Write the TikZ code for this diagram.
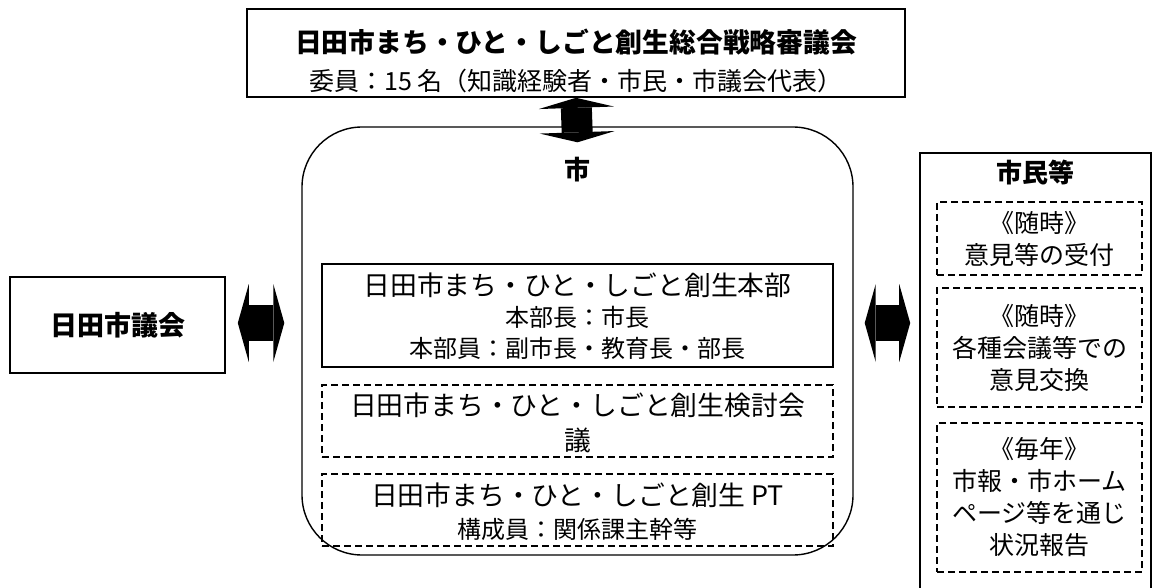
\documentclass[tikz,border=0pt]{standalone}
\usepackage{fontspec}
\setmainfont{Noto Sans CJK JP}
\usetikzlibrary{arrows.meta}

\begin{document}
\begin{tikzpicture}[x=1pt,y=-1pt,
	solidbox/.style={draw, line width=1.6pt, inner sep=0pt},
	dashbox/.style={draw, line width=1.2pt, dash pattern=on 7pt off 4pt, inner sep=0pt},
	fatarrow/.style n args={3}{line width=#1, {Triangle[length=#3,width=#2,line width=0pt 0]}-{Triangle[length=#3,width=#2,line width=0pt 0]}},
	headtxt/.style={inner sep=0pt, font=\fontsize{26}{30}\selectfont\bfseries},
	bigline/.style={font=\fontsize{26.8}{31}\selectfont},
	bodytxt/.style={align=center, inner sep=0pt, font=\fontsize{24}{31}\selectfont},
	sidetxt/.style={align=center, inner sep=0pt, font=\fontsize{25}{32}\selectfont}]
			\useasboundingbox (0,0) rectangle (1156,588);
			\clip (0,0) rectangle (1156,588);
			% top: council
			\node [solidbox, minimum width=658pt, minimum height=88pt] (sgk) at (576,53) {};
			\node [bodytxt, font=\fontsize{25}{31}\selectfont] (sgktxt) at (576,61) {{\fontsize{26.8}{31}\selectfont\bfseries 日田市まち・ひと・しごと創生総合戦略審議会}\\[7pt]委員：15 名（知識経験者・市民・市議会代表）};
			% city
			\node [draw, line width=1.4pt, rounded corners=60pt, minimum width=551pt, minimum height=428pt] (shi) at (577.5,341) {};
			\node [headtxt] (shitxt) at (577,170) {市};
			\node [solidbox, minimum width=511pt, minimum height=103pt] (honbu) at (577.5,315.5) {};
			\node [bodytxt] (honbutxt) at (577.5,316.5) {{\fontsize{26.8}{31}\selectfont 日田市まち・ひと・しごと創生本部}\\本部長：市長\\本部員：副市長・教育長・部長};
			\node [dashbox, minimum width=511pt, minimum height=72pt] (kento) at (577.5,421) {};
			\node [bodytxt, font=\fontsize{26.8}{35}\selectfont] (kentotxt) at (577.5,422.5) {日田市まち・ひと・しごと創生検討会\\議};
			\node [dashbox, minimum width=511pt, minimum height=72pt] (pt) at (577.5,510) {};
			\node [bodytxt] (pttxt) at (577.5,511.5) {{\fontsize{26.8}{31}\selectfont 日田市まち・ひと・しごと創生 PT}\\[2pt]構成員：関係課主幹等};
			% left: assembly
			\node [solidbox, headtxt, font=\fontsize{27}{30}\selectfont\bfseries, minimum width=215pt, minimum height=96pt] (gikai) at (117.5,325) {日田市議会};
			% right: citizens
			\node [solidbox, minimum width=231pt, minimum height=468pt, anchor=north] (shimin) at (1035.5,152) {};
			\node [headtxt] (shimintxt) at (1035.5,173) {市民等};
			\node [dashbox, sidetxt, minimum width=205pt, minimum height=73pt] (zuiji1) at (1039.5,238.5) {《随時》\\意見等の受付};
			\node [dashbox, sidetxt, minimum width=205pt, minimum height=119pt] (zuiji2) at (1039.5,347.5) {《随時》\\各種会議等での\\意見交換};
			\node [dashbox, sidetxt, minimum width=205pt, minimum height=149pt] (maitoshi) at (1039.5,497.5) {《毎年》\\市報・市ホーム\\ページ等を通じ\\状況報告};
			% arrows
			\coordinate (mid) at (0,323);
			\draw [fatarrow={31pt}{75pt}{10pt}] (sgk.south) -- ([yshift=-16pt]shi.north);
			\draw [fatarrow={36pt}{78pt}{11pt}, shorten <=12pt, shorten >=17pt] (gikai.east |- mid) -- (shi.west |- mid);
			\draw [fatarrow={36pt}{78pt}{11pt}, shorten <=11pt, shorten >=9pt] (shi.east |- mid) -- (shimin.west |- mid);
\end{tikzpicture}
\end{document}
